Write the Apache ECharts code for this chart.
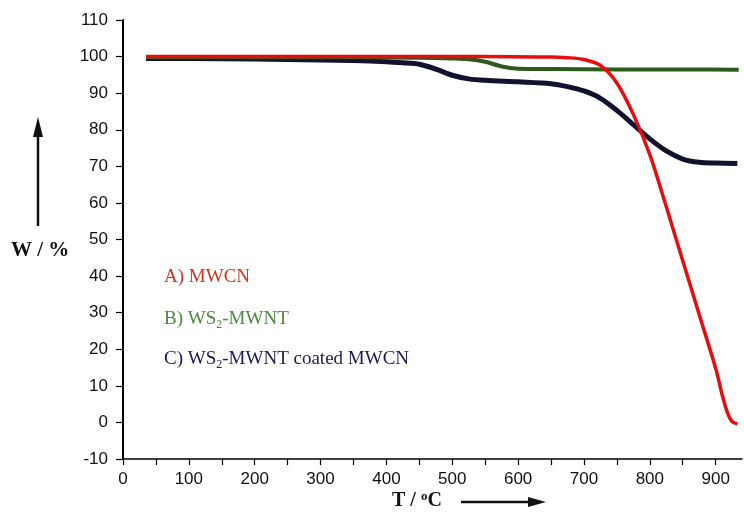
<!DOCTYPE html>
<html><head><meta charset="utf-8">
<script src="https://cdn.jsdelivr.net/npm/echarts@6/dist/echarts.min.js"></script>
<style>html,body{margin:0;padding:0;background:#fff}#c{width:744px;height:521px}</style>
</head><body><div id="c"></div>
<script>
// A) MWCN
const mwcnT = [35, 150, 250, 350, 450, 550, 625, 650, 675, 700, 725, 750, 775, 800, 825, 850, 875, 900, 910, 918, 925, 933];
const mwcnW = [100, 100, 100, 100, 100, 100, 99.9, 99.9, 99.7, 99.2, 97.6, 92.8, 84.2, 73.2, 59, 44.2, 29.5, 14.8, 7.5, 2.6, 0.2, -0.4];
// B) WS2-MWNT
const wsT = [35, 150, 250, 350, 450, 500, 525, 550, 575, 600, 650, 750, 850, 935];
const wsW = [99.8, 99.8, 99.8, 99.8, 99.7, 99.5, 99.3, 98.6, 97.3, 96.7, 96.6, 96.5, 96.5, 96.4];
// C) WS2-MWNT coated MWCN
const coatT = [35, 150, 250, 350, 400, 425, 450, 475, 500, 525, 550, 600, 650, 675, 700, 725, 750, 775, 800, 825, 850, 875, 900, 933];
const coatW = [99.5, 99.4, 99.2, 98.9, 98.6, 98.3, 97.9, 96.6, 94.9, 93.9, 93.5, 93.1, 92.6, 91.8, 90.6, 88.6, 85.3, 81.4, 77.5, 74.2, 72.0, 71.1, 70.9, 70.8];

const seriesNames = ['A) MWCN', 'B) WS2-MWNT', 'C) WS2-MWNT coated MWCN'];
const xTicks = [0, 100, 200, 300, 400, 500, 600, 700, 800, 900];

const zip = (a, b) => a.map((v, i) => [v, b[i]]);

const chart = echarts.init(document.getElementById('c'));
const sans = '"Liberation Sans", Arial, sans-serif';
const serif = '"Liberation Serif", "Times New Roman", serif';

chart.setOption({
  animation: false,
  backgroundColor: '#fff',
  grid: { left: 123, right: 2, top: 20, bottom: 62 },
  xAxis: {
    type: 'value', min: 0, max: 940, interval: 50,
    splitLine: { show: false },
    axisLine: { show: true, onZero: false, lineStyle: { color: '#000', width: 1.5 } },
    axisTick: { show: true, length: 6, lineStyle: { color: '#000', width: 1.2 } },
    axisLabel: {
      color: '#111', fontFamily: sans, fontSize: 17, margin: 12,
      showMaxLabel: false,
      formatter: v => xTicks.includes(v) ? String(v) : ''
    }
  },
  yAxis: {
    type: 'value', min: -10, max: 110, interval: 10,
    splitLine: { show: false },
    axisLine: { show: true, onZero: false, lineStyle: { color: '#000', width: 2 } },
    axisTick: { show: true, length: 7, lineStyle: { color: '#000', width: 1.2 } },
    axisLabel: { color: '#111', fontFamily: sans, fontSize: 17, margin: 15 }
  },
  series: [
    { name: seriesNames[2], type: 'line', data: zip(coatT, coatW), smooth: 0.3, showSymbol: false,
      lineStyle: { color: '#12122e', width: 5 } },
    { name: seriesNames[1], type: 'line', data: zip(wsT, wsW), smooth: 0.3, showSymbol: false,
      lineStyle: { color: '#2b5a1b', width: 4 } },
    { name: seriesNames[0], type: 'line', data: zip(mwcnT, mwcnW), smooth: 0.3, showSymbol: false,
      lineStyle: { color: '#e50d0d', width: 3.5 } }
  ],
  graphic: [
    { type: 'text', left: 164, top: 268,
      style: { text: 'A) MWCN', font: '19px ' + serif, fill: '#d2321a' } },
    { type: 'text', left: 164, top: 310,
      style: { text: '{a|B) WS}{s|2}{a|-MWNT}', fill: '#4a8a3a',
        rich: { a: { fontFamily: serif, fontSize: 19, fill: '#4a8a3a' },
                s: { fontFamily: serif, fontSize: 12, fill: '#4a8a3a', padding: [10, 0, 0, 0] } } } },
    { type: 'text', left: 164, top: 350,
      style: { text: '{a|C) WS}{s|2}{a|-MWNT coated MWCN}', fill: '#1a1a55',
        rich: { a: { fontFamily: serif, fontSize: 19, fill: '#1a1a55' },
                s: { fontFamily: serif, fontSize: 12, fill: '#1a1a55', padding: [10, 0, 0, 0] } } } },
    // y axis name + arrow
    { type: 'text', left: 11, top: 240,
      style: { text: 'W / %', font: 'bold 21px ' + serif, fill: '#111' } },
    { type: 'line', shape: { x1: 38, y1: 226, x2: 38, y2: 134 }, style: { stroke: '#111', lineWidth: 2.5 } },
    { type: 'polygon', shape: { points: [[38, 117], [33, 137], [43, 137]] }, style: { fill: '#111' } },
    // x axis name + arrow
    { type: 'text', left: 392, top: 490,
      style: { text: 'T / {sup|o}C', font: 'bold 20px ' + serif, fill: '#111',
        rich: { sup: { fontFamily: serif, fontWeight: 'bold', fontSize: 13, fill: '#111', padding: [0, 0, 9, 0] } } } },
    { type: 'line', shape: { x1: 461, y1: 502, x2: 530, y2: 502 }, style: { stroke: '#111', lineWidth: 2.5 } },
    { type: 'polygon', shape: { points: [[546, 502], [528, 497], [528, 507]] }, style: { fill: '#111' } }
  ]
});
</script>
</body></html>
